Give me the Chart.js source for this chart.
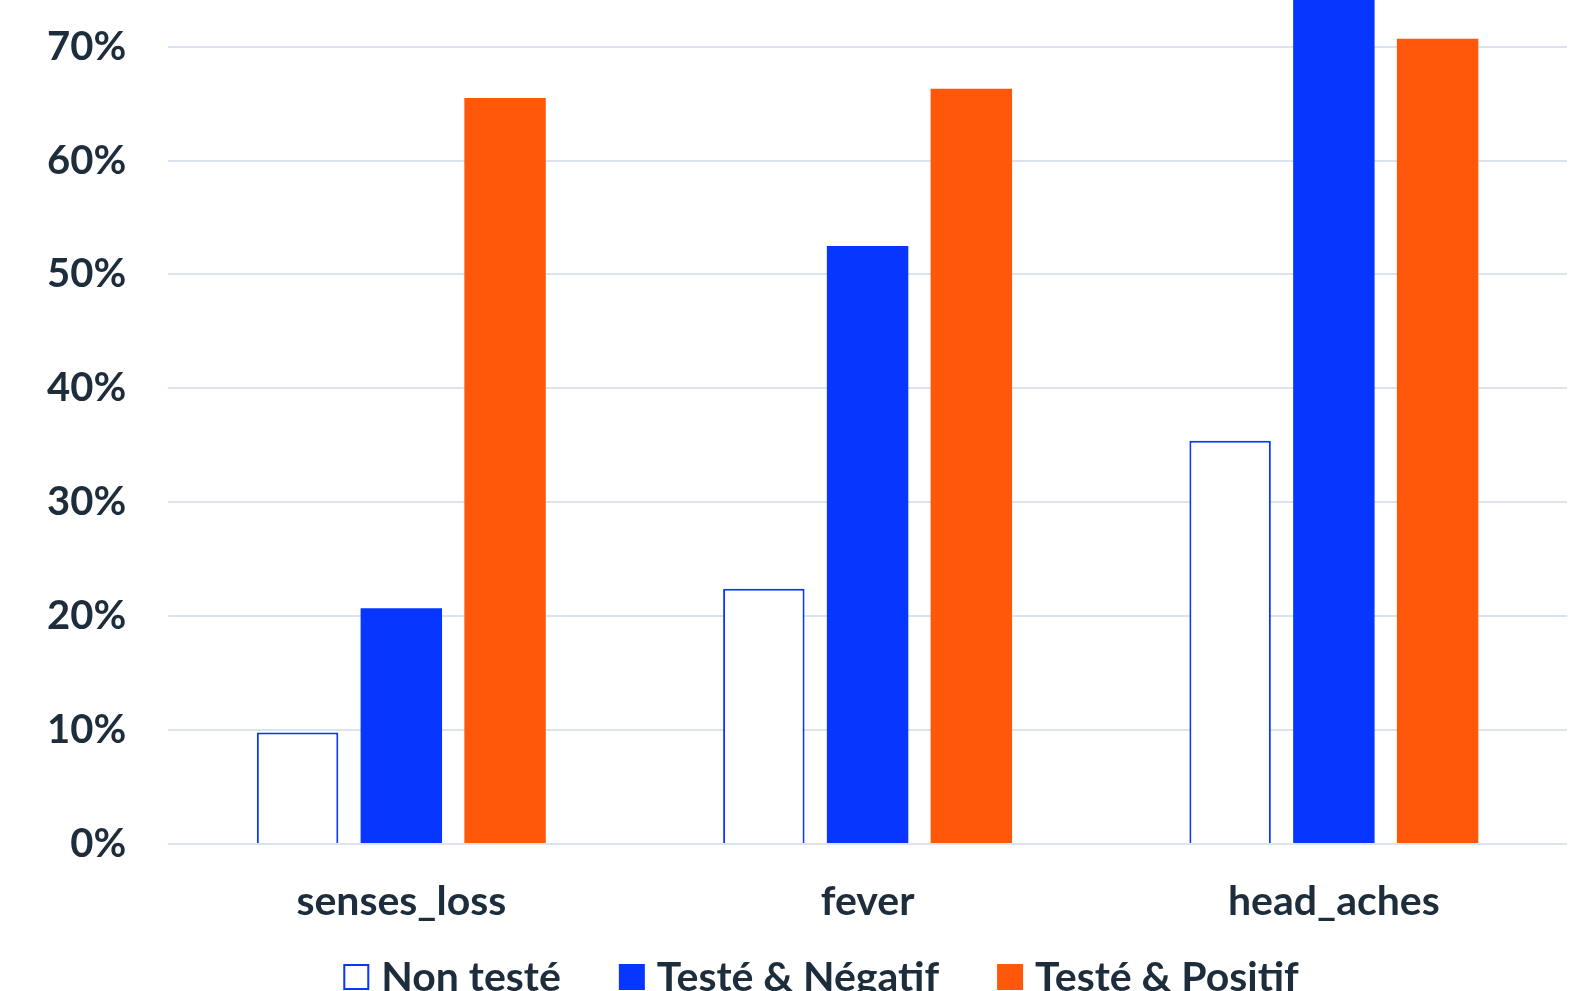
<!DOCTYPE html>
<html>
<head>
<meta charset="utf-8">
<script src="https://cdn.jsdelivr.net/npm/chart.js@4.4.1/dist/chart.umd.min.js"></script>
<style>
  html, body { margin: 0; padding: 0; background: #ffffff; overflow: hidden; }
  #wrap { position: absolute; left: 0; top: 0; width: 1594px; height: 1010px; }
</style>
</head>
<body>
<div id="wrap"><canvas id="chart"></canvas></div>
<script>
// Symptom categories
const categories = ['senses_loss', 'fever', 'head_aches'];

// Share of respondents reporting each symptom (%)
const nonTeste = [9.8, 22.4, 35.4];
const testeNegatif = [20.7, 52.5, 76.0];
const testePositif = [65.5, 66.3, 70.7];

// Series names
const seriesNames = ['Non testé', 'Testé & Négatif', 'Testé & Positif'];

// Value axis
const yMin = 0;
const yMax = 74.1;
const yStep = 10;

const textColor = '#1e2d3b';
const fontFamily = 'Lato, "Open Sans", sans-serif';
const blue = '#0636ff';
const orange = '#ff580a';

// Layout of the page
const AXIS_Y = 844;          // where the 0% line sits in the page
const LEGEND_CENTER_X = 821;
const LEGEND_BOX_TOP = 120;  // below the 0% line
const LEGEND_BASELINE = 147; // below the 0% line
const LEGEND_BOX = 26;
const LEGEND_TEXT_GAP = 12;
const LEGEND_ITEM_GAP = 58;
const LEGEND_FONT = 'bold 41px ' + fontFamily;

// Legend drawn under the category labels
const bottomLegend = {
  id: 'bottomLegend',
  afterDraw(chart) {
    const ctx = chart.ctx;
    const area = chart.chartArea;
    const sets = chart.data.datasets;
    ctx.save();
    ctx.font = LEGEND_FONT;
    const widths = sets.map(ds => ctx.measureText(ds.label).width);
    let total = 0;
    widths.forEach((w, i) => {
      total += LEGEND_BOX + LEGEND_TEXT_GAP + w + (i < widths.length - 1 ? LEGEND_ITEM_GAP : 0);
    });
    let x = LEGEND_CENTER_X - total / 2;
    const boxTop = area.bottom + LEGEND_BOX_TOP;
    const baseline = area.bottom + LEGEND_BASELINE;
    sets.forEach((ds, i) => {
      ctx.fillStyle = ds.backgroundColor;
      ctx.fillRect(x, boxTop, LEGEND_BOX, LEGEND_BOX);
      if (ds.borderWidth) {
        ctx.strokeStyle = ds.borderColor;
        ctx.lineWidth = ds.borderWidth;
        ctx.strokeRect(x + ds.borderWidth / 2, boxTop + ds.borderWidth / 2,
                       LEGEND_BOX - ds.borderWidth, LEGEND_BOX - ds.borderWidth);
      }
      ctx.fillStyle = textColor;
      ctx.textBaseline = 'alphabetic';
      ctx.textAlign = 'left';
      ctx.fillText(ds.label, x + LEGEND_BOX + LEGEND_TEXT_GAP, baseline);
      x += LEGEND_BOX + LEGEND_TEXT_GAP + widths[i] + LEGEND_ITEM_GAP;
    });
    ctx.restore();
  }
};

const chart = new Chart(document.getElementById('chart'), {
  type: 'bar',
  data: {
    labels: categories,
    datasets: [
      {
        label: seriesNames[0],
        data: nonTeste,
        backgroundColor: '#ffffff',
        borderColor: blue,
        borderWidth: 2
      },
      {
        label: seriesNames[1],
        data: testeNegatif,
        backgroundColor: blue,
        borderWidth: 0
      },
      {
        label: seriesNames[2],
        data: testePositif,
        backgroundColor: orange,
        borderWidth: 0
      }
    ]
  },
  options: {
    responsive: true,
    maintainAspectRatio: false,
    animation: false,
    categoryPercentage: 0.6675,
    barPercentage: 0.785,
    layout: { padding: { left: 5, right: 27, top: 0, bottom: 90 } },
    plugins: {
      tooltip: { enabled: false },
      legend: { display: false }
    },
    scales: {
      x: {
        grid: { display: false, drawTicks: false },
        border: { display: false },
        ticks: {
          color: textColor,
          font: { family: fontFamily, size: 41, weight: 'bold' },
          padding: 33
        }
      },
      y: {
        min: yMin,
        max: yMax,
        grid: { color: '#dbe3ee', lineWidth: 2, drawTicks: false },
        border: { display: false },
        ticks: {
          stepSize: yStep,
          includeBounds: false,
          color: textColor,
          font: { family: fontFamily, size: 40, weight: 'bold' },
          padding: 42,
          callback: (v) => v + '%'
        }
      }
    }
  },
  plugins: [bottomLegend]
});

// Pull the plot area up to the top edge and set the 0% line height
const wrap = document.getElementById('wrap');
for (let k = 0; k < 3; k++) {
  const ca = chart.chartArea;
  const h = wrap.offsetHeight + (ca.top + AXIS_Y - ca.bottom);
  wrap.style.top = (-ca.top) + 'px';
  wrap.style.height = h + 'px';
  chart.resize();
}
</script>
</body>
</html>
